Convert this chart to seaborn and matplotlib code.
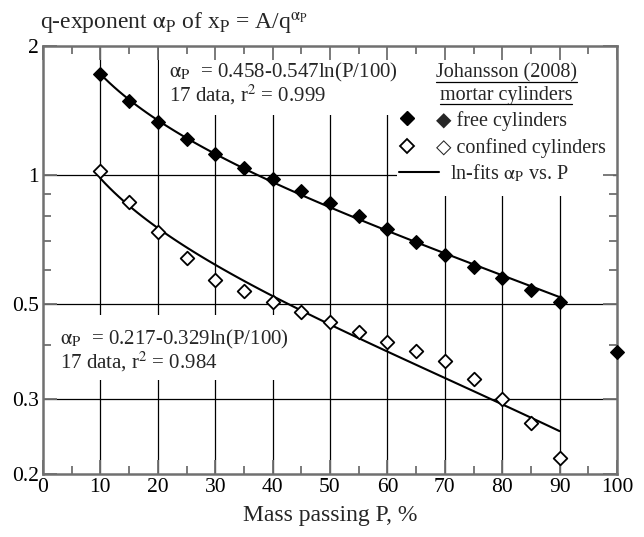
import numpy as np
import pandas as pd
import matplotlib
matplotlib.use("Agg")
import matplotlib.pyplot as plt
import seaborn as sns
from matplotlib.patches import Rectangle
from matplotlib.lines import Line2D

# ---------------- data ----------------
P_values = [10, 15, 20, 25, 30, 35, 40, 45, 50, 55, 60, 65, 70, 75, 80, 85, 90]
free_alpha = [1.72, 1.49, 1.33, 1.21, 1.12, 1.04, 0.976, 0.915, 0.858, 0.803,
              0.747, 0.697, 0.650, 0.608, 0.573, 0.538, 0.505]
confined_alpha = [1.023, 0.866, 0.737, 0.638, 0.568, 0.536, 0.505, 0.479, 0.454,
                  0.430, 0.407, 0.388, 0.367, 0.333, 0.299, 0.263, 0.218]
extra_P = [100]
extra_alpha = [0.385]

x_ticks = [0, 10, 20, 30, 40, 50, 60, 70, 80, 90, 100]
x_minor = [5, 15, 25, 35, 45, 55, 65, 75, 85, 95]
x_grid = [10, 20, 30, 40, 50, 60, 70, 80, 90]
y_ticks = [0.2, 0.3, 0.5, 1, 2]
y_tick_labels = ["0.2", "0.3", "0.5", "1", "2"]
y_minor = [0.4, 0.6, 0.7, 0.8, 0.9]
y_grid = [0.3, 0.5, 1]

AP = r"$\mathrm{\alpha}_{\rm P}$"
free_label = "\u25c6 free cylinders"
confined_label = "\u25c7 confined cylinders"
fit_label = "ln-fits " + AP + " vs. P"
free_eq = [AP + "  = 0.458-0.547ln(P/100)", r"17 data, r$^2$ = 0.999"]
conf_eq = [AP + "  = 0.217-0.329ln(P/100)", r"17 data, r$^2$ = 0.984"]
title = "q-exponent " + AP + r" of x$_{\rm P}$ = A/q$^{\mathrm{\alpha}_{\rm P}}$"
xlabel = "Mass passing P, %"

df = pd.DataFrame({"P": P_values, "free": free_alpha, "confined": confined_alpha})
df_extra = pd.DataFrame({"P": extra_P, "alpha": extra_alpha})

# ---------------- style ----------------
sns.set_style("ticks")
plt.rcParams["font.family"] = ["Liberation Serif", "DejaVu Sans"]
plt.rcParams["mathtext.fontset"] = "stix"
spine_c = "#707070"
FS_TXT = 15
FS_LEG = 14.5

fig = plt.figure(figsize=(6.44, 5.37), dpi=100)
ax = fig.add_axes([43 / 644, 63 / 537, 574 / 644, 428 / 537])
ax.set_yscale("log")
ax.set_xlim(0, 100)
ax.set_ylim(0.2, 2)

# grid lines
for gx in x_grid:
    ax.axvline(gx, color="black", lw=0.9, zorder=0.6)
for gy in y_grid:
    ax.axhline(gy, color="black", lw=0.9, zorder=0.6)

# white masks behind the text blocks
for (x0, y0, x1, y1) in [(0.202, 0.839, 0.617, 1.0),
                         (0.617, 0.650, 0.993, 1.0),
                         (0.017, 0.220, 0.430, 0.371)]:
    ax.add_patch(Rectangle((x0, y0), x1 - x0, y1 - y0, transform=ax.transAxes,
                           facecolor="white", edgecolor="none", zorder=0.8))

# fits
sns.regplot(data=df, x="P", y="free", logx=True, scatter=False, ci=None,
            color="black", line_kws=dict(lw=1.5, zorder=2), ax=ax)
sns.regplot(data=df, x="P", y="confined", logx=True, scatter=False, ci=None,
            color="black", line_kws=dict(lw=1.5, zorder=2), ax=ax)

# points
ms = 48
sns.scatterplot(data=df, x="P", y="free", marker="D", s=ms, color="black",
                edgecolor="black", linewidth=1.0, zorder=3, ax=ax)
sns.scatterplot(data=df, x="P", y="confined", marker="D", s=ms, facecolor="white",
                edgecolor="black", linewidth=1.3, zorder=3, ax=ax)
sns.scatterplot(data=df_extra, x="P", y="alpha", marker="D", s=ms, color="black",
                edgecolor="black", linewidth=1.0, zorder=4, clip_on=False, ax=ax)

# axes formatting
ax.set_axisbelow("line")
ax.set_xticks(x_ticks)
ax.set_xticks(x_minor, minor=True)
ax.set_yticks(y_ticks)
ax.set_yticklabels(y_tick_labels)
ax.set_yticks(y_minor, minor=True)
ax.yaxis.set_minor_formatter(matplotlib.ticker.NullFormatter())
ax.tick_params(which="both", direction="in", top=True, right=True, color=spine_c,
               width=1.3, labelsize=15.5, labelcolor="black")
ax.tick_params(which="major", length=10, pad=3)
ax.tick_params(which="minor", length=6)
for s in ax.spines.values():
    s.set_color(spine_c)
    s.set_linewidth(1.8)
    s.set_zorder(2.5)
ax.set_xlabel(xlabel, fontsize=17, labelpad=6)
ax.set_ylabel("")

# titles and annotations
fig.text(40 / 644, 1 - 30 / 537, title, fontsize=17, ha="left", va="baseline")
ax.text(0.219, 0.937, free_eq[0], fontsize=FS_TXT, ha="left", va="center", transform=ax.transAxes)
ax.text(0.219, 0.887, free_eq[1], fontsize=FS_TXT, ha="left", va="center", transform=ax.transAxes)
ax.text(0.030, 0.315, conf_eq[0], fontsize=FS_TXT, ha="left", va="center", transform=ax.transAxes)
ax.text(0.030, 0.262, conf_eq[1], fontsize=FS_TXT, ha="left", va="center", transform=ax.transAxes)

h1 = ax.text(0.807, 0.937, "Johansson (2008)", fontsize=FS_LEG, ha="center", va="center",
             transform=ax.transAxes)
h2 = ax.text(0.807, 0.885, "mortar cylinders", fontsize=FS_LEG, ha="center", va="center",
             transform=ax.transAxes)

# legends
mk_handles = [
    Line2D([], [], ls="none", marker="D", ms=6.9, mfc="black", mec="black"),
    Line2D([], [], ls="none", marker="D", ms=6.9, mfc="white", mec="black", mew=1.3),
]
fpx = FS_LEG * 100 / 72
leg1 = ax.legend(mk_handles, [free_label, confined_label], loc="upper left",
                 bbox_to_anchor=(0.619, 0.849), frameon=False, fontsize=FS_LEG,
                 handlelength=18 / fpx, handletextpad=20 / fpx, labelspacing=0.38,
                 borderpad=0, borderaxespad=0)
ax.add_artist(leg1)
ln_handle = [Line2D([], [], color="black", lw=1.5)]
leg2 = ax.legend(ln_handle, [fit_label], loc="upper left",
                 bbox_to_anchor=(0.6206, 0.727), frameon=False, fontsize=FS_LEG,
                 handlelength=40 / fpx, handletextpad=11 / fpx, borderpad=0, borderaxespad=0)

# underline the heading lines
fig.canvas.draw()
r = fig.canvas.get_renderer()
for t in (h1, h2):
    bb = t.get_window_extent(renderer=r)
    yy = bb.y0 + 1
    fig.add_artist(Line2D([bb.x0 / 644, bb.x1 / 644], [yy / 537, yy / 537],
                          color="black", lw=0.9, transform=fig.transFigure))

fig.savefig("out.png", dpi=100)
